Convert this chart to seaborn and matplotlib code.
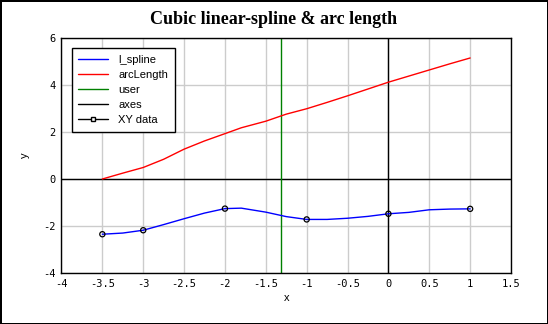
import matplotlib
matplotlib.use("Agg")
import matplotlib.pyplot as plt
from matplotlib.lines import Line2D
import seaborn as sns
import pandas as pd

# XY data points
data_x = [-3.5, -3.0, -2.0, -1.0, 0.0, 1.0]
data_y = [-2.35, -2.18, -1.26, -1.72, -1.48, -1.27]

# curves
curve_x = [-3.5, -3.25, -3.0, -2.75, -2.5, -2.25, -2.0, -1.8, -1.5, -1.25,
           -1.0, -0.75, -0.5, -0.25, 0.0, 0.25, 0.5, 0.75, 1.0]
spline_y = [-2.35, -2.30, -2.18, -1.94, -1.69, -1.45, -1.26, -1.24, -1.41, -1.60,
            -1.72, -1.72, -1.67, -1.59, -1.48, -1.42, -1.31, -1.28, -1.27]
arc_y = [0.0, 0.25, 0.49, 0.84, 1.27, 1.62, 1.93, 2.18, 2.46, 2.76,
         2.99, 3.26, 3.54, 3.83, 4.12, 4.38, 4.64, 4.90, 5.15]

user_x = -1.31
x_ticks = [-4, -3.5, -3, -2.5, -2, -1.5, -1, -0.5, 0, 0.5, 1, 1.5]
x_tick_labels = ["-4", "-3.5", "-3", "-2.5", "-2", "-1.5", "-1", "-0.5", "0", "0.5", "1", "1.5"]
y_ticks = [-4, -2, 0, 2, 4, 6]
y_tick_labels = ["-4", "-2", "0", "2", "4", "6"]

sns.set_theme(style="white")
plt.rcParams["font.family"] = ["Liberation Sans", "DejaVu Sans"]
plt.rcParams["text.color"] = "black"
plt.rcParams["axes.labelcolor"] = "black"
plt.rcParams["xtick.color"] = "black"
plt.rcParams["ytick.color"] = "black"

fig = plt.figure(figsize=(5.48, 3.24), dpi=100)
fig.patch.set_facecolor("white")
fig.patch.set_edgecolor("black")
fig.patch.set_linewidth(1.0)
ax = fig.add_axes([0.1122, 0.1574, 0.8203, 0.7253])
ax.set_facecolor("white")

ax.set_xlim(-4, 1.5)
ax.set_ylim(-4, 6)
ax.set_xticks(x_ticks)
ax.set_xticklabels(x_tick_labels, family="DejaVu Sans Mono", fontsize=7.5)
ax.set_yticks(y_ticks)
ax.set_yticklabels(y_tick_labels, family="DejaVu Sans Mono", fontsize=7.5)
ax.grid(True, color="#cccccc", linewidth=1.0)
ax.set_axisbelow(True)
ax.tick_params(direction="in", length=4, width=1, colors="black", pad=4)
for s in ax.spines.values():
    s.set_color("black")
    s.set_linewidth(1.0)

ax.axhline(0, color="black", linewidth=1.0, zorder=2)
ax.axvline(0, color="black", linewidth=1.0, zorder=2)
ax.axvline(user_x, color="green", linewidth=1.0, zorder=2)

df = pd.DataFrame({"x": curve_x, "spline": spline_y, "arc": arc_y})
sns.lineplot(data=df, x="x", y="spline", ax=ax, color="blue", linewidth=1.0,
             sort=False, estimator=None, zorder=3)
sns.lineplot(data=df, x="x", y="arc", ax=ax, color="red", linewidth=1.0,
             sort=False, estimator=None, zorder=3)
dp = pd.DataFrame({"x": data_x, "y": data_y})
sns.scatterplot(data=dp, x="x", y="y", ax=ax, marker="o", s=14,
                facecolor="none", edgecolor="black", linewidth=0.9, zorder=4)

ax.set_xlabel("x", fontsize=8, labelpad=3)
ax.set_ylabel("y", fontsize=8, labelpad=10)

handles = [
    Line2D([], [], color="blue", lw=1),
    Line2D([], [], color="red", lw=1),
    Line2D([], [], color="green", lw=1),
    Line2D([], [], color="black", lw=1),
    Line2D([], [], color="black", lw=1, marker="s", markersize=3.5,
           markerfacecolor="white", markeredgecolor="black"),
]
labels = ["l_spline", "arcLength", "user", "axes", "XY data"]
leg = ax.legend(handles, labels, loc="upper left", bbox_to_anchor=(0.0227, 0.956),
                borderaxespad=0, fontsize=8, frameon=True, fancybox=False,
                edgecolor="black", framealpha=1, handlelength=2.7,
                handletextpad=0.9, labelspacing=0.45, borderpad=0.6)
leg.get_frame().set_linewidth(1.0)

fig.suptitle("Cubic linear-spline & arc length", family="Liberation Serif",
             fontweight="bold", fontsize=13, y=0.965, color="black")

fig.savefig("out.png", dpi=100)
